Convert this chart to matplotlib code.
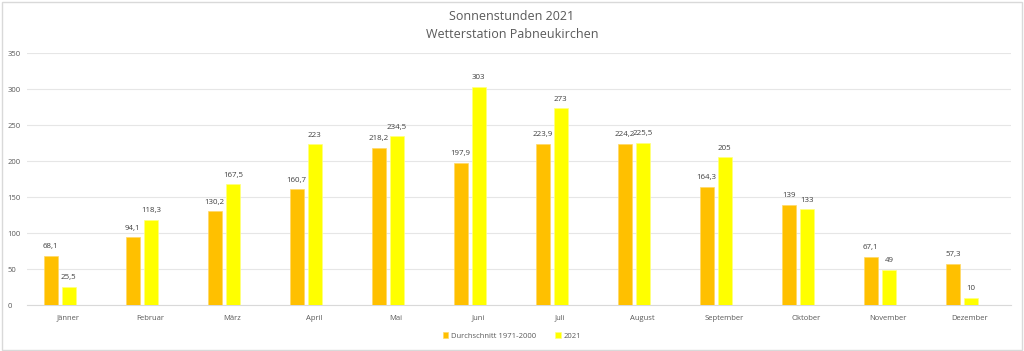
import matplotlib
matplotlib.use("Agg")
import matplotlib.pyplot as plt
from matplotlib.patches import FancyBboxPatch
import numpy as np

months = ["Jänner", "Februar", "März", "April", "Mai", "Juni", "Juli",
          "August", "September", "Oktober", "November", "Dezember"]
avg_1971_2000 = [68.1, 94.1, 130.2, 160.7, 218.2, 197.9, 223.9, 224.2, 164.3, 139, 67.1, 57.3]
year_2021 = [25.5, 118.3, 167.5, 223, 234.5, 303, 273, 225.5, 205, 133, 49, 10]
series_names = ["Durchschnitt 1971-2000", "2021"]
yticks = [0, 50, 100, 150, 200, 250, 300, 350]

plt.rcParams['font.family'] = ['Open Sans', 'DejaVu Sans']
txt = '#595959'

fig = plt.figure(figsize=(10.24, 3.51), dpi=100)
fig.patches.append(FancyBboxPatch((0.002, 0.004), 0.996, 0.99, boxstyle="square,pad=0",
                                  transform=fig.transFigure, fill=False,
                                  edgecolor='#d9d9d9', linewidth=1.0))
ax = fig.add_axes([27/1024, 46/351, 984/1024, 252/351])

x = np.arange(len(months))
w = 0.17
b1 = ax.bar(x - 0.21, avg_1971_2000, w, color='#FFC000', label=series_names[0],
            edgecolor='#FFD966', linewidth=0.5, zorder=3)
b2 = ax.bar(x + 0.01, year_2021, w, color='#FFFF00', label=series_names[1],
            edgecolor='#FFFF80', linewidth=0.5, zorder=3)

def fmt(v):
    s = ("%g" % v).replace('.', ',')
    return s

for bars, vals in ((b1, avg_1971_2000), (b2, year_2021)):
    for rect, v in zip(bars, vals):
        ax.annotate(fmt(v), (rect.get_x() + rect.get_width() / 2, v),
                    xytext=(0, 4), textcoords='offset points', ha='center', va='bottom',
                    fontsize=5.7, color='#404040')

ax.set_xlim(-0.5, 11.5)
ax.set_ylim(0, 350)
ax.set_yticks(yticks)
ax.set_xticks(x)
ax.set_xticklabels(months)
ax.tick_params(axis='both', length=0, labelsize=5.5, labelcolor=txt)
ax.tick_params(axis='x', pad=7)
ax.tick_params(axis='y', pad=14)
ax.grid(axis='y', color='#e6e6e6', linewidth=0.8, zorder=0)
for s in ['top', 'right', 'left']:
    ax.spines[s].set_visible(False)
ax.spines['bottom'].set_color('#d9d9d9')
ax.spines['bottom'].set_linewidth(0.8)
for lbl in ax.get_yticklabels():
    lbl.set_horizontalalignment('left')

fig.text(0.5, 1 - 16/351, "Sonnenstunden 2021", ha='center', va='center', fontsize=9, color=txt)
fig.text(0.5, 1 - 34/351, "Wetterstation Pabneukirchen", ha='center', va='center', fontsize=9, color=txt)

leg = fig.legend(handles=[b1, b2], labels=series_names, loc='center', bbox_to_anchor=(0.5, 1 - 336/351),
                 ncol=2, frameon=False, fontsize=5.5, handlelength=0.7, handleheight=0.7,
                 columnspacing=2.5, handletextpad=0.4)
for t in leg.get_texts():
    t.set_color(txt)

fig.savefig("out.png", dpi=100)
